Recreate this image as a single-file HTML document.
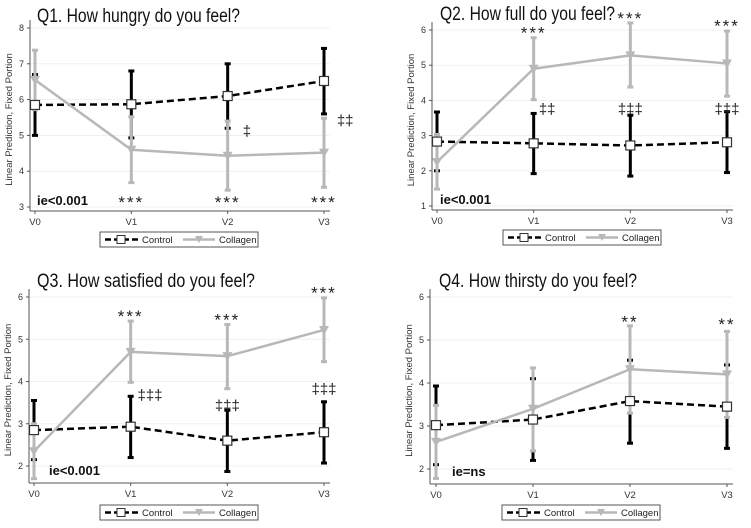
<!DOCTYPE html>
<html><head><meta charset="utf-8"><style>
html,body{margin:0;padding:0;background:#fff;}
svg{display:block;font-family:"Liberation Sans",sans-serif;}
</style></head><body>
<svg id="c" width="751" height="528" viewBox="0 0 751 528" xmlns="http://www.w3.org/2000/svg"></svg>
<script>
const categories = ["V0","V1","V2","V3"];
const q1Control = [5.85,5.87,6.1,6.52];
const q1ControlLo = [5.0,4.93,5.2,5.6];
const q1ControlHi = [6.7,6.8,7.0,7.43];
const q1Collagen = [6.55,4.6,4.43,4.52];
const q1CollagenLo = [5.72,3.68,3.47,3.55];
const q1CollagenHi = [7.38,5.52,5.4,5.48];
const q2Control = [2.83,2.78,2.72,2.81];
const q2ControlLo = [2.0,1.92,1.85,1.95];
const q2ControlHi = [3.67,3.63,3.58,3.68];
const q2Collagen = [2.25,4.9,5.28,5.05];
const q2CollagenLo = [1.48,4.02,4.38,4.12];
const q2CollagenHi = [3.03,5.78,6.2,5.97];
const q3Control = [2.85,2.93,2.6,2.8];
const q3ControlLo = [2.15,2.2,1.87,2.07];
const q3ControlHi = [3.55,3.65,3.32,3.52];
const q3Collagen = [2.35,4.7,4.6,5.22];
const q3CollagenLo = [1.7,3.98,3.83,4.47];
const q3CollagenHi = [3.0,5.43,5.35,5.98];
const q4Control = [3.02,3.15,3.58,3.45];
const q4ControlLo = [2.1,2.2,2.6,2.48];
const q4ControlHi = [3.93,4.1,4.53,4.42];
const q4Collagen = [2.63,3.4,4.32,4.2];
const q4CollagenLo = [1.78,2.42,3.3,3.2];
const q4CollagenHi = [3.48,4.35,5.33,5.2];
const q1Ticks = [3,4,5,6,7,8];
const q2Ticks = [1,2,3,4,5,6];
const q3Ticks = [2,3,4,5,6];
const q4Ticks = [2,3,4,5,6];

const panels = [
 {id:"q1",title:"Q1. How hungry do you feel?",tw:203,tx:37,ty:22,ax:30,ab:211,x0:35,x3:324,vLo:3,vHi:8,pLo:207,pHi:28,ticks:q1Ticks,
  c:q1Control,cl:q1ControlLo,ch:q1ControlHi,g:q1Collagen,gl:q1CollagenLo,gh:q1CollagenHi,ie:"ie<0.001",ieY:205,ieX:37,
  ann:[["***",1,3.2],["***",2,3.2],["***",3,3.2],["‡",2.2,5.15],["‡‡",3.22,5.45]],lg:[100,232]},
 {id:"q2",title:"Q2. How full do you feel?",tw:175,tx:440,ty:20,ax:432,ab:210,x0:437,x3:727,vLo:1,vHi:6,pLo:206,pHi:30,ticks:q2Ticks,
  c:q2Control,cl:q2ControlLo,ch:q2ControlHi,g:q2Collagen,gl:q2CollagenLo,gh:q2CollagenHi,ie:"ie<0.001",ieY:204,ieX:440,
  ann:[["***",1,5.98],["***",2,6.4],["***",3,6.18],["‡‡",1.14,3.78],["‡‡‡",2,3.78],["‡‡‡",3,3.78]],lg:[503,230]},
 {id:"q3",title:"Q3. How satisfied do you feel?",tw:218,tx:37,ty:287,ax:29,ab:483,x0:34,x3:324,vLo:2,vHi:6,pLo:466,pHi:297,ticks:q3Ticks,
  c:q3Control,cl:q3ControlLo,ch:q3ControlHi,g:q3Collagen,gl:q3CollagenLo,gh:q3CollagenHi,ie:"ie<0.001",ieY:475,ieX:49,
  ann:[["***",1,5.6],["***",2,5.52],["***",3,6.15],["‡‡‡",1.2,3.7],["‡‡‡",2,3.45],["‡‡‡",3,3.85]],lg:[100,505]},
 {id:"q4",title:"Q4. How thirsty do you feel?",tw:198,tx:439,ty:287,ax:430,ab:484,x0:436,x3:727,vLo:2,vHi:6,pLo:469,pHi:297,ticks:q4Ticks,
  c:q4Control,cl:q4ControlLo,ch:q4ControlHi,g:q4Collagen,gl:q4CollagenLo,gh:q4CollagenHi,ie:"ie=ns",ieY:476,ieX:452,
  ann:[["**",2,5.48],["**",3,5.42]],lg:[502,505]}
];
const NS="http://www.w3.org/2000/svg";
const svg=document.getElementById('c');
function mk(tag,attrs,parent,text){const e=document.createElementNS(NS,tag);for(const k in attrs)e.setAttribute(k,attrs[k]);if(text!==undefined)e.textContent=text;(parent||svg).appendChild(e);return e;}
panels.forEach(p=>{
 const g=mk('g',{});
 
 
 const X=i=>p.x0+(p.x3-p.x0)*i/3;
 const Y=v=>p.pLo+(p.pHi-p.pLo)*(v-p.vLo)/(p.vHi-p.vLo);
 const right=p.x3+6;
 const t=mk('text',{x:p.tx,y:p.ty,'font-size':19,fill:'#111',textLength:p.tw,lengthAdjust:'spacingAndGlyphs'},g,p.title);
 
 
 p.ticks.forEach(v=>{
  const gl=mk('line',{x1:p.ax,x2:right,y1:Y(v),y2:Y(v),stroke:'#edf1f3','stroke-width':1},g);
  
  
  mk('line',{x1:p.ax-3,x2:p.ax,y1:Y(v),y2:Y(v),stroke:'#555'},g);
  const tl=mk('text',{x:p.ax-6,y:Y(v)+3,'font-size':9,fill:'#333','text-anchor':'end'},g,String(v));
  
  
 });
 mk('line',{x1:p.ax,x2:p.ax,y1:p.pHi-8,y2:p.ab,stroke:'#555'},g);
 mk('line',{x1:p.ax,x2:right,y1:p.ab,y2:p.ab,stroke:'#555'},g);
 const yl=mk('text',{transform:`translate(${p.ax-18},${(p.pHi+p.ab)/2}) rotate(-90)`,'font-size':9.5,fill:'#333','text-anchor':'middle'},g,'Linear Prediction, Fixed Portion');
 
 
 categories.forEach((c,i)=>{
  mk('line',{x1:X(i),x2:X(i),y1:p.ab,y2:p.ab+3,stroke:'#555'},g);
  const xl=mk('text',{x:X(i),y:p.ab+14,'font-size':9.5,fill:'#333','text-anchor':'middle'},g,c);
  
  
 });
 function bars(lo,hi,col,name){
  lo.forEach((l,i)=>{
   const b=mk('g',{stroke:col,'stroke-width':3},g);
   
   
   mk('line',{x1:X(i),x2:X(i),y1:Y(l),y2:Y(hi[i])},b);
   mk('line',{x1:X(i)-3,x2:X(i)+3,y1:Y(l),y2:Y(l)},b);
   mk('line',{x1:X(i)-3,x2:X(i)+3,y1:Y(hi[i]),y2:Y(hi[i])},b);
  });
 }
 bars(p.cl,p.ch,'#000','control-error-bar');
 bars(p.gl,p.gh,'#b8b8b8','collagen-error-bar');
 const cl=mk('polyline',{points:p.c.map((v,i)=>X(i)+','+Y(v)).join(' '),fill:'none',stroke:'#000','stroke-width':2.5,'stroke-dasharray':'7,4'},g);
 
 
 const gll=mk('polyline',{points:p.g.map((v,i)=>X(i)+','+Y(v)).join(' '),fill:'none',stroke:'#b8b8b8','stroke-width':2.5},g);
 
 
 p.c.forEach((v,i)=>{
  const m=mk('rect',{x:X(i)-4.5,y:Y(v)-4.5,width:9,height:9,fill:'#fff',stroke:'#333','stroke-width':1.2},g);
  
  
 });
 p.g.forEach((v,i)=>{
  const m=mk('polygon',{points:`${X(i)-5},${Y(v)-4} ${X(i)+5},${Y(v)-4} ${X(i)},${Y(v)+5}`,fill:'#b8b8b8'},g);
  
  
 });
 p.ann.forEach(a=>{
  const star=a[0].indexOf('*')>=0;
  const at=mk('text',{x:X(a[1]),y:Y(a[2])+(star?8:6),'font-size':star?17:15,fill:'#222','text-anchor':'middle','letter-spacing':star?2:0},g,a[0]);
  
  
 });
 const ie=mk('text',{x:p.ieX,y:p.ieY,'font-size':13,'font-weight':'bold',fill:'#111'},g,p.ie);
 
 
 const L=mk('g',{transform:`translate(${p.lg[0]},${p.lg[1]})`},g);
 
 
 mk('rect',{x:0,y:0,width:158,height:15,fill:'#fff',stroke:'#555','stroke-width':1},L);
 const le1=mk('g',{},L);
 
 
 mk('line',{x1:5,x2:38,y1:7.5,y2:7.5,stroke:'#000','stroke-width':2.5,'stroke-dasharray':'6,3'},le1);
 mk('rect',{x:17,y:3.5,width:8,height:8,fill:'#fff',stroke:'#333'},le1);
 mk('text',{x:42,y:11,'font-size':9.5,fill:'#222'},le1,'Control');
 const le2=mk('g',{},L);
 
 
 mk('line',{x1:83,x2:115,y1:7.5,y2:7.5,stroke:'#b8b8b8','stroke-width':2.5},le2);
 mk('polygon',{points:'95,4 103,4 99,11',fill:'#b8b8b8'},le2);
 mk('text',{x:119,y:11,'font-size':9.5,fill:'#222'},le2,'Collagen');
});
</script>
</body></html>
